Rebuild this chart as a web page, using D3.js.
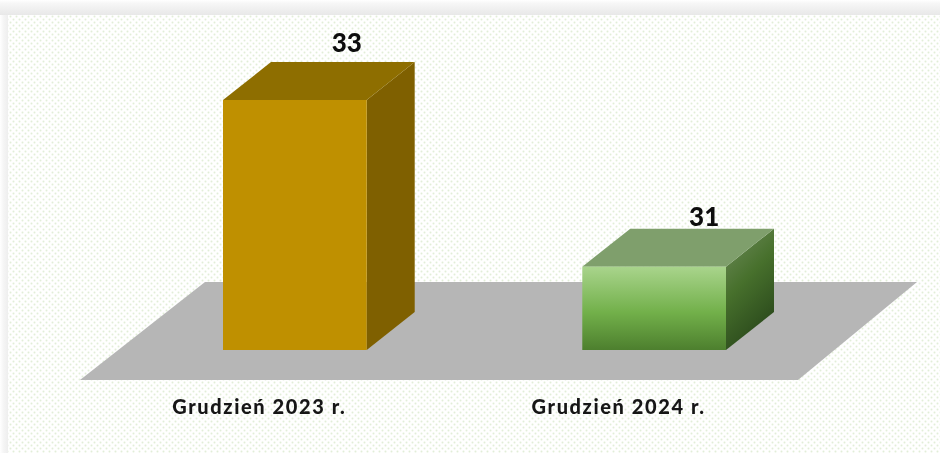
<!DOCTYPE html>
<html>
<head>
<meta charset="utf-8">
<script src="https://cdn.jsdelivr.net/npm/d3@7"></script>
<style>
  html, body { margin: 0; padding: 0; background: #fff; }
  svg { display: block; }
</style>
</head>
<body>
<div id="chart"></div>
<script>
const categories = ["Grudzień 2023 r.", "Grudzień 2024 r."];
const values = [33, 31];
const yDomain = [30, 33];

const width = 940, height = 453;
const depthX = 48, depthY = 38;

const svg = d3.select("#chart").append("svg")
  .attr("width", width).attr("height", height);
const defs = svg.append("defs");

// dotted paper texture of the panel
const dots = defs.append("pattern").attr("id", "dots")
  .attr("width", 6).attr("height", 6).attr("patternUnits", "userSpaceOnUse");
dots.append("rect").attr("width", 6).attr("height", 6).attr("fill", "#fff");
dots.selectAll("circle").data([[1.5, 1.5], [4.5, 4.5]]).enter().append("circle")
  .attr("cx", d => d[0]).attr("cy", d => d[1]).attr("r", 1).attr("fill", "#e2eed8");

function gradient(id, stops, x2, y2) {
  const g = defs.append("linearGradient").attr("id", id)
    .attr("x1", 0).attr("y1", 0).attr("x2", x2).attr("y2", y2);
  g.selectAll("stop").data(stops).enter().append("stop")
    .attr("offset", d => d[0]).attr("stop-color", d => d[1]);
}
gradient("edgeTop", [[0, "#fff"], [0.2, "#f7f7f7"], [1, "#e8e8e8"]], 0, 1);
gradient("edgeLeft", [[0, "#fff"], [0.4, "#f6f6f6"], [1, "#eeeeee"]], 1, 0);
gradient("front2", [[0, "#a9d48c"], [0.55, "#72b04a"], [1, "#4d7f2e"]], 0, 1);
gradient("side2", [[0, "#6f8c5c"], [0.5, "#47702c"], [1, "#2b4a1c"]], 0.4, 1);

defs.append("filter").attr("id", "soft")
  .append("feGaussianBlur").attr("stdDeviation", 0.45);

// frame and panel
svg.append("rect").attr("width", width).attr("height", 15).attr("fill", "url(#edgeTop)");
svg.append("rect").attr("y", 15).attr("width", 8).attr("height", height - 15).attr("fill", "url(#edgeLeft)");
svg.append("rect").attr("x", 8).attr("y", 15).attr("width", width - 8).attr("height", height - 15)
  .attr("fill", "url(#dots)");

const x = d3.scaleBand().domain(categories).range([223, 726]).paddingInner(0.6).paddingOuter(0);
const y = d3.scaleLinear().domain(yDomain).range([350, 100]);

const base = y(yDomain[0]);

// grey floor, same depth ratio as the bars
const floorBottom = base + 30, floorTop = base - 68;
svg.append("path")
  .attr("d", d3.line()([[80, floorBottom], [798, floorBottom], [917, floorTop], [205, floorTop]]) + "Z")
  .attr("fill", "#b6b6b6");

const fills = [
  { front: "#bf9000", top: "#8e6e00", side: "#7f6000" },
  { front: "url(#front2)", top: "#7f9f6c", side: "url(#side2)" }
];

const bars = svg.append("g").selectAll("g").data(categories).enter().append("g");

bars.append("path") // side
  .attr("d", (d, i) => {
    const r = x(d) + x.bandwidth(), t = y(values[i]);
    return d3.line()([[r, t], [r + depthX, t - depthY], [r + depthX, base - depthY], [r, base]]) + "Z";
  })
  .attr("fill", (d, i) => fills[i].side);

bars.append("path") // top
  .attr("d", (d, i) => {
    const l = x(d), r = l + x.bandwidth(), t = y(values[i]);
    return d3.line()([[l, t], [l + depthX, t - depthY], [r + depthX, t - depthY], [r, t]]) + "Z";
  })
  .attr("fill", (d, i) => fills[i].top);

bars.append("rect") // front
  .attr("x", d => x(d))
  .attr("y", (d, i) => y(values[i]))
  .attr("width", x.bandwidth())
  .attr("height", (d, i) => base - y(values[i]))
  .attr("fill", (d, i) => fills[i].front);

const font = "Lato, 'Open Sans', sans-serif";

// value labels sit over the back edge of the box
svg.append("g").selectAll("text").data(values).enter().append("text")
  .attr("x", (d, i) => x(categories[i]) + x.bandwidth() / 2 + (i === 0 ? 52 : 50))
  .attr("y", (d, i) => y(d) - depthY - (i === 0 ? 10 : 3))
  .attr("text-anchor", "middle")
  .attr("font-family", font).attr("font-weight", 900).attr("font-size", 26)
  .attr("fill", "#111")
  .attr("filter", "url(#soft)")
  .text(d => d);

svg.append("g").selectAll("text").data(categories).enter().append("text")
  .attr("x", d => x(d) + x.bandwidth() / 2 - 35.5)
  .attr("y", 414)
  .attr("text-anchor", "middle")
  .attr("font-family", font).attr("font-weight", 900).attr("font-size", 20)
  .attr("letter-spacing", 1.6)
  .attr("fill", "#161616")
  .attr("filter", "url(#soft)")
  .text(d => d);
</script>
</body>
</html>
